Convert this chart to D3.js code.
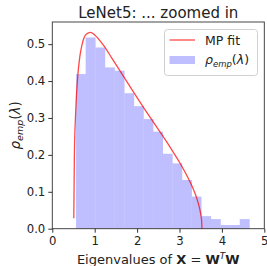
<!DOCTYPE html>
<html>
<head>
<meta charset="utf-8">
<script src="https://cdn.jsdelivr.net/npm/d3@7"></script>
<style>
  body { margin: 0; background: #fff; }
  text { font-family: "DejaVu Sans", sans-serif; fill: #222; }
</style>
</head>
<body>
<div id="chart"></div>
<script>
// histogram bins (left edges + last right edge) and densities
const binEdges = [0.560, 0.787, 1.014, 1.241, 1.468, 1.696, 1.923, 2.150, 2.377, 2.604,
                  2.831, 3.058, 3.285, 3.512, 3.739, 3.967, 4.194, 4.421, 4.648];
const binDensity = [0.419, 0.518, 0.491, 0.437, 0.428, 0.367, 0.332, 0.297, 0.263,
                    0.203, 0.177, 0.132, 0.087, 0.034, 0.026, 0.010, 0.010, 0.026];

// MP fit curve
const mpLambda = [0.507, 0.52, 0.55, 0.60, 0.65, 0.70, 0.80, 0.90, 1.00, 1.20, 1.40, 1.60,
                  1.80, 2.00, 2.20, 2.40, 2.60, 2.80, 3.00, 3.20, 3.30, 3.40, 3.45, 3.50, 3.52, 3.53];
const mpRho = [0.028, 0.192, 0.313, 0.413, 0.467, 0.498, 0.527, 0.532, 0.525, 0.498, 0.463, 0.427,
               0.391, 0.355, 0.320, 0.286, 0.252, 0.217, 0.180, 0.138, 0.114, 0.085, 0.066, 0.040, 0.023, 0.0];

const xTicks = [0, 1, 2, 3, 4, 5];
const yTicks = [0.0, 0.1, 0.2, 0.3, 0.4, 0.5];

const width = 267, height = 266;
const mLeft = 52.3, mRight = 264.3, mTop = 22, mBottom = 228.7;

const svg = d3.select('#chart').append('svg')
  .attr('width', width)
  .attr('height', height);

const x = d3.scaleLinear().domain([0, 5]).range([mLeft, mRight]);
const y = d3.scaleLinear().domain([0, 0.56]).range([mBottom, mTop]);

const bins = binDensity.map((v, i) => ({ x0: binEdges[i], x1: binEdges[i + 1], v: v }));

svg.append('g')
  .selectAll('rect')
  .data(bins)
  .join('rect')
  .attr('x', d => x(d.x0))
  .attr('width', d => x(d.x1) - x(d.x0) + 0.3)
  .attr('y', d => y(d.v))
  .attr('height', d => y(0) - y(d.v))
  .attr('fill', '#bfbfff');

const line = d3.line()
  .x((d, i) => x(mpLambda[i]))
  .y(d => y(d))
  .curve(d3.curveMonotoneX);

svg.append('path')
  .datum(mpRho)
  .attr('d', line)
  .attr('fill', 'none')
  .attr('stroke', 'rgba(255,0,0,0.72)')
  .attr('stroke-width', 1.3);

// axes
const xAxis = svg.append('g')
  .attr('transform', `translate(0,${mBottom})`)
  .call(d3.axisBottom(x).tickValues(xTicks).tickFormat(d3.format('d')).tickSize(4).tickPadding(4.5));

const yAxis = svg.append('g')
  .attr('transform', `translate(${mLeft},0)`)
  .call(d3.axisLeft(y).tickValues(yTicks).tickFormat(d3.format('.1f')).tickSize(4).tickPadding(3));

[xAxis, yAxis].forEach(a => {
  a.select('.domain').remove();
  a.selectAll('line').attr('stroke', '#333');
  a.selectAll('text')
    .style('font-family', '"DejaVu Sans", sans-serif')
    .style('font-size', '11.7px')
    .attr('fill', '#222');
});

svg.append('rect')
  .attr('x', mLeft)
  .attr('y', mTop)
  .attr('width', mRight - mLeft)
  .attr('height', mBottom - mTop)
  .attr('fill', 'none')
  .attr('stroke', '#333')
  .attr('stroke-width', 0.9);

// title
svg.append('text')
  .attr('x', (mLeft + mRight) / 2)
  .attr('y', 18)
  .attr('text-anchor', 'middle')
  .style('font-size', '15px')
  .text('LeNet5: ... zoomed in');

// x label
const xl = svg.append('text')
  .attr('x', (mLeft + mRight) / 2)
  .attr('y', 263.5)
  .attr('text-anchor', 'middle')
  .style('font-size', '13px');
xl.append('tspan').text('Eigenvalues of ');
xl.append('tspan').attr('font-weight', 'bold').text('X');
xl.append('tspan').text(' = ');
xl.append('tspan').attr('font-weight', 'bold').text('W');
xl.append('tspan').attr('font-style', 'italic').attr('font-size', '9px').attr('dy', -5).text('T');
xl.append('tspan').attr('font-weight', 'bold').attr('dy', 5).text('W');

// y label
const yl = svg.append('text')
  .attr('transform', `translate(20,${(mTop + mBottom) / 2}) rotate(-90)`)
  .attr('text-anchor', 'middle')
  .style('font-size', '13.5px');
yl.append('tspan').attr('font-style', 'italic').text('ρ');
yl.append('tspan').attr('font-style', 'italic').attr('font-size', '9.5px').attr('dy', 3).text('emp');
yl.append('tspan').attr('dy', -3).text('(');
yl.append('tspan').attr('font-style', 'italic').text('λ');
yl.append('tspan').text(')');

// legend
const lg = svg.append('g');
lg.append('rect')
  .attr('x', 164.5).attr('y', 29.5)
  .attr('width', 93).attr('height', 46)
  .attr('rx', 3)
  .attr('fill', 'rgba(255,255,255,0.8)')
  .attr('stroke', '#d0d0d0');
lg.append('line')
  .attr('x1', 169.5).attr('x2', 195)
  .attr('y1', 40).attr('y2', 40)
  .attr('stroke', 'rgba(255,0,0,0.72)')
  .attr('stroke-width', 1.3);
lg.append('rect')
  .attr('x', 169.5).attr('y', 56)
  .attr('width', 25.5).attr('height', 8)
  .attr('fill', '#bfbfff');
lg.append('text')
  .attr('x', 205).attr('y', 45)
  .style('font-size', '12.5px')
  .text('MP fit');
const lt = lg.append('text')
  .attr('x', 205).attr('y', 64)
  .style('font-size', '12.5px');
lt.append('tspan').attr('font-style', 'italic').text('ρ');
lt.append('tspan').attr('font-style', 'italic').attr('font-size', '8.5px').attr('dy', 3).text('emp');
lt.append('tspan').attr('dy', -3).text('(');
lt.append('tspan').attr('font-style', 'italic').text('λ');
lt.append('tspan').text(')');
</script>
</body>
</html>
